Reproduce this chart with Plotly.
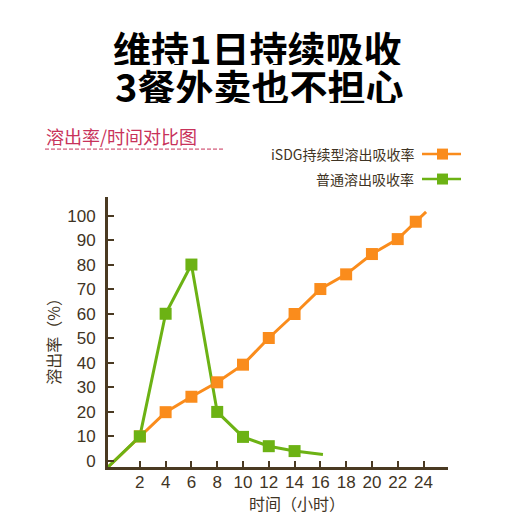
import plotly.graph_objects as go

# ---- data ----
x_ticks = [2, 4, 6, 8, 10, 12, 14, 16, 18, 20, 22, 24]
y_ticks = [0, 10, 20, 30, 40, 50, 60, 70, 80, 90, 100]

isdg_x = [2, 4, 6, 8, 10, 12, 14, 16, 18, 20, 22, 23.4]
isdg_y = [9.9, 19.8, 26.1, 32, 39.2, 50.1, 59.9, 70.1, 76.1, 84.4, 90.5, 97.6]
isdg_tail_x = [23.4, 24.2]
isdg_tail_y = [97.6, 101.6]

normal_x = [2, 4, 6, 8, 10, 12, 14]
normal_y = [9.9, 60, 80.1, 19.9, 9.7, 5.9, 3.9]
normal_tail_x = [14, 16.2]
normal_tail_y = [3.9, 2.5]

origin_x = -0.47
origin_y = -2.6

series_names = ["iSDG持续型溶出吸收率", "普通溶出吸收率"]
title_lines = ["维持1日持续吸收", "3餐外卖也不担心"]
section_title = "溶出率/时间对比图"
x_title = "时间（小时）"
y_title = "溶出率（%）"

ORANGE = "#fa8c1c"
GREEN = "#6cb214"
AXIS = "#4a3a22"
TEXT = "#3f3424"
CRIMSON = "#c8325a"
FONT = "Noto Sans CJK SC"
NUMFONT = "Liberation Sans"

# page has an 8px body margin; work in reference pixels and shift
OFF = 8
W, H = 520 - OFF, 520 - OFF
L, R, T, B = 108 - OFF, 448 - OFF, 197 - OFF, 467.5 - OFF


def px(x):
    return (x - OFF - L) / (R - L)


def py(y):
    return (B - (y - OFF)) / (B - T)


fig = go.Figure()

fig.add_trace(go.Scatter(
    x=[origin_x] + isdg_x, y=[origin_y] + isdg_y, mode="lines",
    line=dict(color=ORANGE, width=3), hoverinfo="skip", showlegend=False))
fig.add_trace(go.Scatter(
    x=isdg_tail_x, y=isdg_tail_y, mode="lines",
    line=dict(color=ORANGE, width=3), hoverinfo="skip", showlegend=False))
fig.add_trace(go.Scatter(
    x=[origin_x] + normal_x, y=[origin_y] + normal_y, mode="lines",
    line=dict(color=GREEN, width=3), hoverinfo="skip", showlegend=False))
fig.add_trace(go.Scatter(
    x=normal_tail_x, y=normal_tail_y, mode="lines",
    line=dict(color=GREEN, width=3), hoverinfo="skip", showlegend=False))
fig.add_trace(go.Scatter(
    x=isdg_x, y=isdg_y, mode="markers", name=series_names[0],
    marker=dict(symbol="square", size=12, color=ORANGE), showlegend=False))
fig.add_trace(go.Scatter(
    x=normal_x, y=normal_y, mode="markers", name=series_names[1],
    marker=dict(symbol="square", size=12, color=GREEN), showlegend=False))

fig.update_xaxes(
    range=[origin_x, 25.9], tickvals=x_ticks, ticks="inside", ticklen=6,
    tickwidth=2, tickcolor=AXIS, showline=True, linewidth=3, linecolor=AXIS,
    showgrid=False, zeroline=False, ticklabelstandoff=-2,
    tickfont=dict(family=NUMFONT, size=17, color=TEXT))
fig.update_yaxes(
    range=[origin_y, 107.7], tickvals=y_ticks, ticks="inside", ticklen=6,
    tickwidth=2, tickcolor=AXIS, showline=True, linewidth=3, linecolor=AXIS,
    showgrid=False, zeroline=False, ticklabelstandoff=6,
    tickfont=dict(family=NUMFONT, size=17, color=TEXT))


def label(text, x, y, size, color, xanchor="center", angle=0, height=None):
    d = dict(text=text, x=px(x), y=py(y), xref="paper", yref="paper",
             xanchor=xanchor, yanchor="middle", textangle=angle,
             showarrow=False, font=dict(family=FONT, size=size, color=color))
    if height is not None:
        d["height"] = height
    return d


ann = [
    label("<b>" + title_lines[0] + "</b>", 257, 47, 38, "#000000", height=36),
    label("<b>" + title_lines[1] + "</b>", 259, 85, 38, "#000000", height=36),
    label(section_title, 44, 136, 18, CRIMSON, xanchor="left"),
    label(series_names[0], 416, 154, 14, TEXT, xanchor="right"),
    label(series_names[1], 416, 179, 14, TEXT, xanchor="right"),
    label(x_title, 297, 504, 16, TEXT),
    label(y_title, 53, 338, 16, TEXT, angle=-90),
]

shapes = []
shapes.append(dict(type="line", xref="paper", yref="paper",
                   x0=px(45), x1=px(223), y0=py(149), y1=py(149),
                   line=dict(color=CRIMSON, width=1, dash="4px,2px")))
for yy, col in [(154, ORANGE), (179, GREEN)]:
    shapes.append(dict(type="line", xref="paper", yref="paper",
                       x0=px(422), x1=px(461), y0=py(yy), y1=py(yy),
                       line=dict(color=col, width=2.5)))
    shapes.append(dict(type="rect", xref="paper", yref="paper",
                       x0=px(437), x1=px(448), y0=py(yy - 5.5), y1=py(yy + 5.5),
                       line=dict(width=0), fillcolor=col))

fig.update_layout(
    width=W, height=H, autosize=False,
    margin=dict(l=L, r=W - R, t=T, b=H - B, pad=0),
    paper_bgcolor="white", plot_bgcolor="white",
    annotations=ann, shapes=shapes, showlegend=False,
)

fig.write_html("out.html")
